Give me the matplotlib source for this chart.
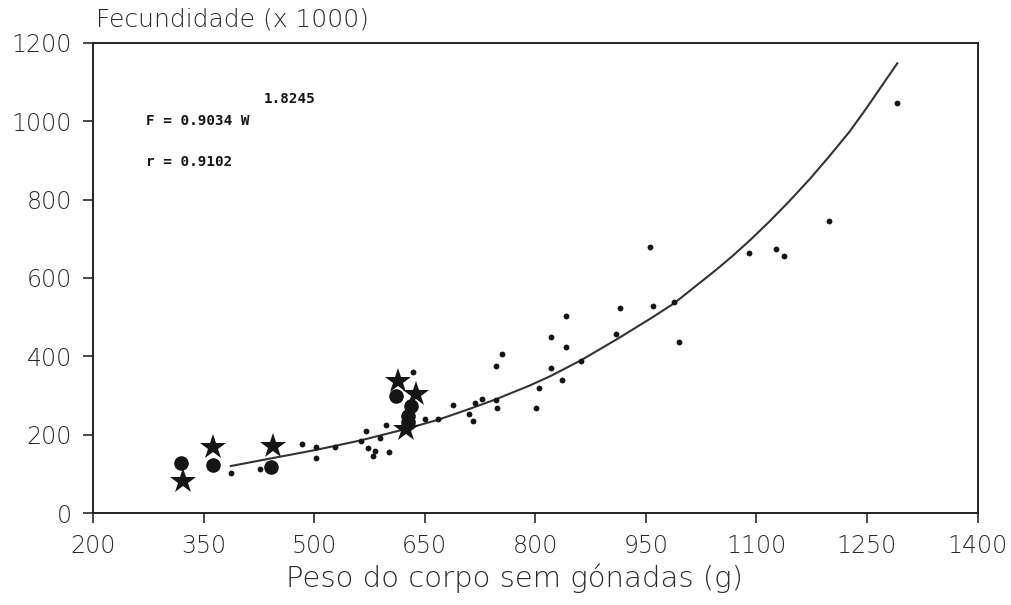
import matplotlib
matplotlib.use("Agg")
import matplotlib.pyplot as plt

# Peso do corpo sem gónadas (g) vs fecundidade (x 1000)
dot_w = [387, 426, 483, 502, 503, 528, 563, 570, 573, 580, 582, 589, 598, 602,
         634, 651, 668, 689, 710, 715, 718, 728, 746, 748, 746, 755, 801, 805,
         821, 821, 841, 841, 836, 862, 910, 915, 959, 955, 988, 995, 1090, 1126,
         1137, 1198, 1291]
dot_f = [102, 112, 175, 169, 141, 169, 185, 209, 165, 146, 159, 192, 226, 155,
         359, 240, 240, 277, 252, 235, 282, 290, 288, 269, 375, 406, 268, 320,
         371, 450, 503, 425, 340, 388, 457, 523, 529, 680, 539, 436, 663, 673,
         657, 746, 1047]

circle_w = [319, 363, 442, 611, 632, 627, 627]
circle_f = [128, 122, 118, 300, 274, 248, 232]

star_w = [322, 363, 444, 614, 638, 624]
star_f = [82, 168, 170, 338, 303, 215]

# ajuste F x W
curve_w = [387, 440, 502, 562, 621, 668, 711, 746, 793, 821, 862, 910, 955,
           988, 1014, 1046, 1068, 1091, 1118, 1145, 1172, 1198, 1226, 1249, 1291]
curve_f = [120, 139, 161, 185, 213, 238, 266, 290, 326, 350, 390, 443, 495,
           535, 574, 622, 657, 696, 745, 797, 852, 909, 973, 1033, 1148]

x_ticks = [200, 350, 500, 650, 800, 950, 1100, 1250, 1400]
y_ticks = [0, 200, 400, 600, 800, 1000, 1200]

plt.rcParams['font.family'] = ['DejaVu Sans']
txt = '#2a2a2a'
ink = '#151515'

fig = plt.figure(figsize=(10.11, 6.05), dpi=100)
ax = fig.add_axes([0.092, 0.152, 0.875, 0.777])

ax.plot(curve_w, curve_f, color='#333333', lw=1.5, zorder=2)
ax.plot(dot_w, dot_f, 'o', color=ink, ms=4.2, mew=0, zorder=3)
ax.plot(circle_w, circle_f, 'o', color=ink, ms=10.5, mew=0, zorder=3)
ax.plot(star_w, star_f, '*', color=ink, ms=19, mew=0, zorder=4)

ax.set_xlim(200, 1400)
ax.set_ylim(0, 1200)
ax.set_xticks(x_ticks)
ax.set_yticks(y_ticks)
ax.tick_params(axis='both', direction='out', length=7, width=1.2,
               colors=txt, labelsize=17, pad=8)
for lab in ax.get_xticklabels() + ax.get_yticklabels():
    lab.set_fontweight('light')
for sp in ax.spines.values():
    sp.set_linewidth(1.4)
    sp.set_color('#222222')

fig.text(0.509, 0.045, 'Peso do corpo sem gónadas (g)', fontsize=21, color=txt,
         fontweight='light', ha='center', va='center')
fig.text(0.095, 0.968, 'Fecundidade (x 1000)', fontsize=18, color=txt,
         fontweight='light', ha='left', va='center')

eq_font = dict(family='DejaVu Sans Mono', fontweight='bold', color=ink)
ax.text(272, 1000, 'F = 0.9034 W', fontsize=10.3, ha='left', va='center', **eq_font)
ax.text(431, 1057, '1.8245', fontsize=10.3, ha='left', va='center', **eq_font)
ax.text(272, 895, 'r = 0.9102', fontsize=10.3, ha='left', va='center', **eq_font)

fig.savefig('out.png', dpi=100)
